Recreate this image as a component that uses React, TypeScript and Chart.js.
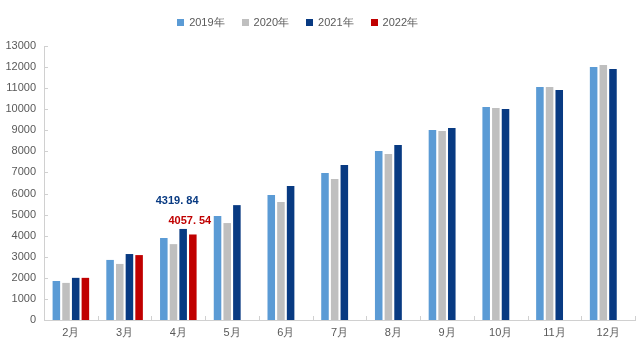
import React, { useEffect, useRef } from "react";
import { Chart, registerables } from "chart.js";

Chart.register(...registerables);

const categories = ["2月", "3月", "4月", "5月", "6月", "7月", "8月", "9月", "10月", "11月", "12月"];
const seriesNames = ["2019年", "2020年", "2021年", "2022年"];
const values2019 = [1850, 2850, 3890, 4930, 5930, 6970, 8020, 9010, 10100, 11050, 12000];
const values2020 = [1760, 2660, 3600, 4600, 5600, 6690, 7870, 8970, 10060, 11050, 12100];
const values2021 = [2000, 3130, 4319.84, 5450, 6360, 7350, 8300, 9110, 10010, 10910, 11910];
const values2022 = [2000, 3080, 4057.54, null, null, null, null, null, null, null, null];
const seriesColors = ["#5b9bd5", "#bfbfbf", "#083a82", "#c00000"];
const yMin = 0;
const yMax = 13000;
const yStep = 1000;
// annotated values: [dataset index, category index, label text]
const annotations: [number, number, string][] = [
  [2, 2, "4319. 84"],
  [3, 2, "4057. 54"],
];

const FONT = "'Liberation Sans', Arial, sans-serif";
const TEXT_COLOR = "#595959";
const AXIS_COLOR = "#d0d0d0";

const innerTicks = {
  id: "innerTicks",
  afterDatasetsDraw(chart: any) {
    const { ctx, chartArea, scales } = chart;
    const x = scales.x;
    const y = scales.y;
    ctx.save();
    ctx.strokeStyle = AXIS_COLOR;
    ctx.lineWidth = 1;
    ctx.beginPath();
    y.ticks.forEach((t: any) => {
      const py = Math.round(y.getPixelForValue(t.value)) + 0.5;
      if (t.value === yMin) return;
      ctx.moveTo(chartArea.left, py);
      ctx.lineTo(chartArea.left + 4, py);
    });
    const n = categories.length;
    for (let i = 1; i <= n; i++) {
      const px =
        i < n
          ? (x.getPixelForValue(i - 1) + x.getPixelForValue(i)) / 2
          : chartArea.right;
      const rx = Math.round(px) + 0.5;
      ctx.moveTo(rx, chartArea.bottom);
      ctx.lineTo(rx, chartArea.bottom - 4);
    }
    ctx.stroke();

    // value annotations
    ctx.font = `bold 11px ${FONT}`;
    ctx.textAlign = "center";
    ctx.textBaseline = "middle";
    annotations.forEach(([di, ci, text]) => {
      const meta = chart.getDatasetMeta(di);
      const el = meta.data[ci];
      if (!el) return;
      const lift = di === 2 ? 28 : 14;
      const shift = di === 2 ? -6 : -3;
      ctx.fillStyle = seriesColors[di];
      ctx.fillText(text, el.x + shift, el.y - lift);
    });
    ctx.restore();
  },
};

const customLegend = {
  id: "customLegend",
  afterDraw(chart: any) {
    const { ctx } = chart;
    ctx.save();
    ctx.font = `11px ${FONT}`;
    ctx.textBaseline = "middle";
    ctx.textAlign = "left";
    const box = 7;
    const gap = 5;
    const spacing = 17;
    const widths = seriesNames.map((s) => box + gap + ctx.measureText(s).width);
    const total = widths.reduce((a, b) => a + b, 0) + spacing * (widths.length - 1);
    let x = chart.width * 0.4635 - total / 2;
    const cy = 22;
    seriesNames.forEach((name, i) => {
      ctx.fillStyle = seriesColors[i];
      ctx.fillRect(Math.round(x), Math.round(cy - box / 2), box, box);
      ctx.fillStyle = TEXT_COLOR;
      ctx.fillText(name, x + box + gap, cy + 0.5);
      x += widths[i] + spacing;
    });
    ctx.restore();
  },
};

export default function App() {
  const canvasRef = useRef<HTMLCanvasElement | null>(null);

  useEffect(() => {
    if (!canvasRef.current) return;
    const series = [values2019, values2020, values2021, values2022];
    const chart = new Chart(canvasRef.current, {
      type: "bar",
      data: {
        labels: categories,
        datasets: series.map((vals, i) => ({
          label: seriesNames[i],
          data: vals,
          backgroundColor: seriesColors[i],
          borderWidth: 0,
          categoryPercentage: 0.72,
          barPercentage: 0.78,
        })),
      },
      options: {
        responsive: false,
        animation: false,
        devicePixelRatio: 1,
        layout: { padding: { top: 46, right: 7, left: 0, bottom: 0 } },
        plugins: {
          legend: { display: false },
          tooltip: { enabled: false },
        },
        scales: {
          x: {
            grid: { display: false, drawTicks: false },
            border: { display: true, color: AXIS_COLOR, width: 1 },
            ticks: { color: TEXT_COLOR, font: { family: FONT, size: 11 }, padding: 6, maxRotation: 0 },
            afterFit: (s: any) => {
              s.height = 36;
            },
          },
          y: {
            min: yMin,
            max: yMax,
            grid: { display: false, drawTicks: false },
            border: { display: true, color: AXIS_COLOR, width: 1 },
            ticks: {
              stepSize: yStep,
              color: TEXT_COLOR,
              font: { family: FONT, size: 11 },
              padding: 8,
              callback: (v: any) => String(v),
            },
            afterFit: (s: any) => {
              s.width = 44;
            },
          },
        },
      },
      plugins: [innerTicks, customLegend],
    });
    return () => chart.destroy();
  }, []);

  return (
    <div style={{ position: "fixed", left: 0, top: 0, width: 642, height: 356, background: "#fff" }}>
      <canvas ref={canvasRef} width={642} height={356} style={{ width: 642, height: 356, display: "block" }} />
    </div>
  );
}
